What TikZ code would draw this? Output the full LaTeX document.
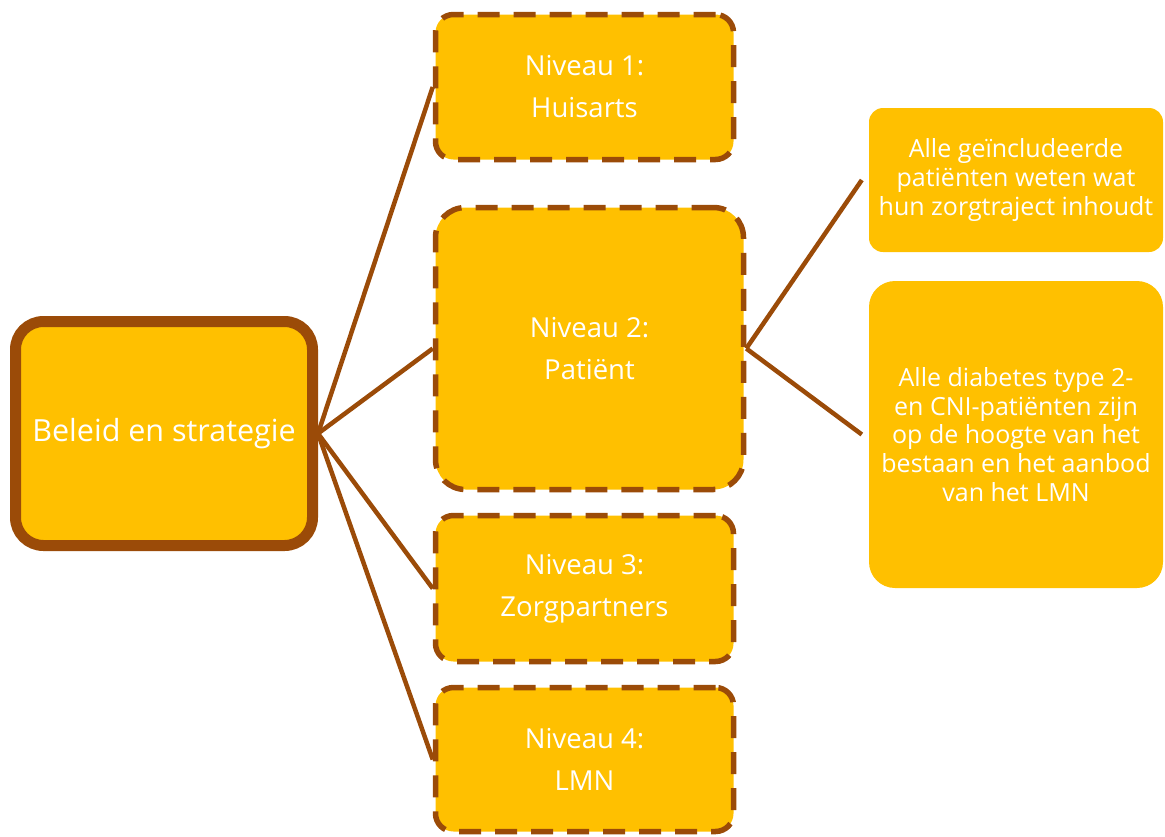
\documentclass[tikz,border=0pt]{standalone}
\usepackage{fontspec}
\setmainfont{Open Sans}
\definecolor{gold}{RGB}{255,192,0}
\definecolor{bark}{RGB}{155,75,8}
\begin{document}
\begin{tikzpicture}[x=1pt,y=-1pt,
  mainbox/.style={draw=bark, line width=11pt, fill=gold, rounded corners=28pt, text=white},
  levelbox/.style={draw=bark, line width=5.5pt, fill=gold, text=white,
    dash pattern=on 22pt off 14pt, rounded corners=18pt},
  goalbox/.style={fill=gold, text=white, rounded corners=14pt},
  link/.style={draw=bark, line width=4.5pt}]
\useasboundingbox (0,0) rectangle (1165,836);

% central box
\node[mainbox, minimum width=297pt, minimum height=224pt, inner sep=0pt,
  font=\fontsize{30.5}{36}\selectfont] (main) at (164,433.5) {Beleid en strategie};

% four levels
\begin{scope}[every node/.style={inner sep=0pt, align=center, font=\fontsize{27.5}{42}\selectfont}]
\node[levelbox, minimum width=298pt, minimum height=145pt] (n1) at (584.5,87)
  {Niveau 1:\\Huisarts};
\node[levelbox, rounded corners=30pt, minimum width=308pt, minimum height=282pt] (n2) at (589.5,348.5)
  {Niveau 2:\\Patiënt};
\node[levelbox, minimum width=298pt, minimum height=146pt] (n3) at (584.5,588.5)
  {Niveau 3:\\Zorgpartners};
\node[levelbox, minimum width=298pt, minimum height=144pt] (n4) at (584.5,759.5)
  {Niveau 4:\\LMN};
\end{scope}

% goals of level 2
\begin{scope}[every node/.style={inner sep=0pt, align=center, font=\fontsize{25}{28.7}\selectfont}]
\node[goalbox, minimum width=294pt, minimum height=144pt] (ga) at (1016,180)
  {Alle geïncludeerde\\patiënten weten wat\\hun zorgtraject inhoudt};
\node[goalbox, rounded corners=26pt, minimum width=294pt, minimum height=307pt] (gb) at (1016,434.5)
  {Alle diabetes type 2-\\en CNI-patiënten zijn\\op de hoogte van het\\bestaan en het aanbod\\van het LMN};
\end{scope}

% connectors
\foreach \n in {n1,n2,n3,n4}
  \draw[link] (main.east) -- (\n.west);
\draw[link] (n2.east) -- ([xshift=-7pt]ga.west);
\draw[link] (n2.east) -- ([xshift=-7pt]gb.west);
\end{tikzpicture}
\end{document}
